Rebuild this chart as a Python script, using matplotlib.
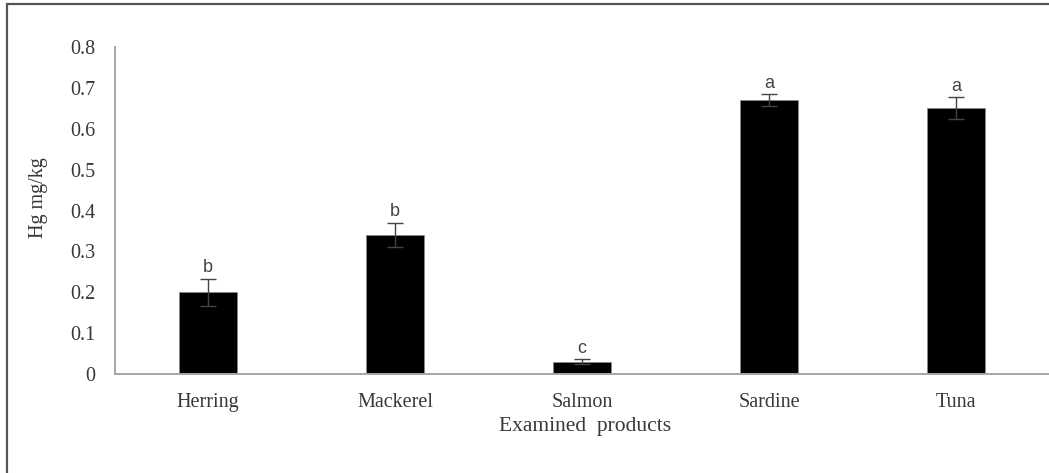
import matplotlib
matplotlib.use("Agg")
import matplotlib.pyplot as plt
from matplotlib.patches import Rectangle

categories = ["Herring", "Mackerel", "Salmon", "Sardine", "Tuna"]
values = [0.20, 0.34, 0.03, 0.67, 0.65]
errors = [0.033, 0.03, 0.006, 0.015, 0.027]
letters = ["b", "b", "c", "a", "a"]
yticks = [0, 0.1, 0.2, 0.3, 0.4, 0.5, 0.6, 0.7, 0.8]
ytick_labels = ["0", "0.1", "0.2", "0.3", "0.4", "0.5", "0.6", "0.7", "0.8"]

W, H = 1049, 473
fig = plt.figure(figsize=(W / 100, H / 100), dpi=100)
fig.patch.set_facecolor("white")

# outer frame
fig.patches.append(Rectangle((6.5 / W, -0.1), 1.2, 1 - 4.5 / H + 0.1,
                             transform=fig.transFigure, fill=False,
                             edgecolor="#555555", linewidth=1.6))

ax = fig.add_axes([114.5 / W, 1 - 374 / H, (1049.5 - 114.5) / W, (374 - 47) / H])
x = list(range(len(categories)))
ax.bar(x, values, width=0.31, color="black", edgecolor="#888888", linewidth=0.6, zorder=2)
ax.errorbar(x, values, yerr=errors, fmt="none", ecolor="#444444",
            elinewidth=1.0, capsize=5.5, capthick=1.0, zorder=3)
for xi, v, e, t in zip(x, values, errors, letters):
    ax.text(xi, v + e + 0.006, t, ha="center", va="bottom", fontsize=13,
            color="#444444", family="Liberation Sans")

ax.set_xlim(-0.5, 4.5)
ax.set_ylim(0, 0.8)
ax.set_yticks(yticks)
ax.set_yticklabels(ytick_labels)
ax.set_xticks(x)
ax.set_xticklabels(categories)
ax.tick_params(axis="both", length=0, labelsize=14.5, labelcolor="#383838")
ax.tick_params(axis="y", pad=14)
ax.tick_params(axis="x", pad=13.5)
for lab in ax.get_xticklabels() + ax.get_yticklabels():
    lab.set_family("Liberation Serif")

for s in ["top", "right"]:
    ax.spines[s].set_visible(False)
for s in ["left", "bottom"]:
    ax.spines[s].set_color("#a6a6a6")
    ax.spines[s].set_linewidth(1.4)

ax.set_ylabel("Hg mg/kg", family="Liberation Serif", fontsize=14.5, color="#383838")
ax.yaxis.set_label_coords((38 - 114.5) / 935, (374 - 198) / 327)
ax.set_xlabel("Examined  products", family="Liberation Serif", fontsize=15.5,
              color="#383838")
ax.xaxis.set_label_coords((585 - 114.5) / 935, (374 - 426) / 327)
ax.xaxis.label.set_va("center")
ax.yaxis.label.set_va("center")

fig.savefig("out.png", dpi=100, facecolor="white")
